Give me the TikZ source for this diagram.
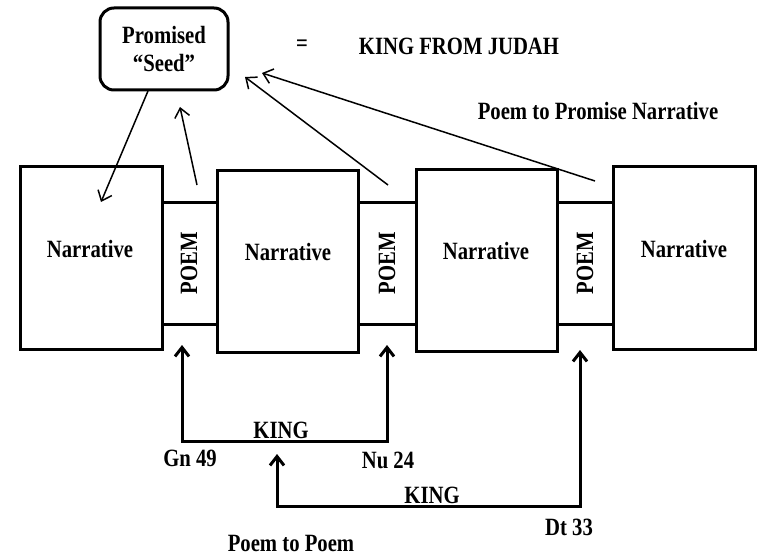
\documentclass[tikz,border=0pt]{standalone}
\usepackage{fontspec}
\setmainfont{Liberation Serif}
\usetikzlibrary{arrows.meta}
\newcommand{\tallt}[1]{\scalebox{1}[1.2]{#1}}
\begin{document}
\begin{tikzpicture}[x=1pt,y=-1pt,
  every node/.style={font=\fontsize{20.7}{28}\selectfont\bfseries,inner sep=0pt,outer sep=0pt},
  nbox/.style={draw,line width=3pt},
  pbox/.style={draw,line width=3pt},
  thin arrow/.style={line width=1.5pt,-{Straight Barb[length=9pt,width=15pt,line width=1.5pt]}},
  thick arrow/.style={line width=3pt,line join=miter,{Straight Barb[length=9pt,width=14pt,line width=3pt]}-{Straight Barb[length=9pt,width=14pt,line width=3pt]}}]
\useasboundingbox (0,0) rectangle (760,556);
% poem boxes
\node[pbox,minimum width=55pt,minimum height=121pt] (p1) at (189.5,263.5) {};
\node[pbox,minimum width=58pt,minimum height=121pt] (p2) at (387,263.5) {};
\node[pbox,minimum width=56pt,minimum height=121pt] (p3) at (585,263.5) {};
% narrative boxes
\node[nbox,minimum width=142pt,minimum height=182pt] (n1) at (91,258) {};
\node[nbox,minimum width=141pt,minimum height=181pt] (n2) at (287.5,261.5) {};
\node[nbox,minimum width=141pt,minimum height=181pt] (n3) at (486.5,260.5) {};
\node[nbox,minimum width=142pt,minimum height=182pt] (n4) at (684,258) {};
% texts in boxes
\node (t1) at (90,249) {\tallt{Narrative}};
\node (t2) at (288,252) {\tallt{Narrative}};
\node (t3) at (486,251) {\tallt{Narrative}};
\node (t4) at (684,249) {\tallt{Narrative}};
\node[rotate=90] (q1) at (189,263.5) {\tallt{POEM}};
\node[rotate=90] (q2) at (387,263.5) {\tallt{POEM}};
\node[rotate=90] (q3) at (585,263.5) {\tallt{POEM}};
% seed
\node[draw,line width=3pt,rounded corners=14pt,minimum width=128pt,minimum height=82pt,align=center] (seed) at (164,49) {\tallt{Promised}\\\tallt{“Seed”}};
\node (eq) at (302,46) {\tallt{=}};
\node (kfj) at (459,46) {\tallt{KING FROM JUDAH}};
\node (ppn) at (598,111) {\tallt{Poem to Promise Narrative}};
% top arrows
\coordinate (s1) at (148,91);
\coordinate (e1) at (101,202);
\coordinate (s2) at (197,185);
\coordinate (e2) at (180,107);
\coordinate (s3) at (388,185);
\coordinate (e3) at (245,77);
\coordinate (s4) at (595,181);
\coordinate (e4) at (262,73);
\draw[thin arrow] (s1) -- (e1);
\draw[thin arrow] (s2) -- (e2);
\draw[thin arrow] (s3) -- (e3);
\draw[thin arrow] (s4) -- (e4);
% bottom loops
\coordinate (g1) at (182,345);
\coordinate (g2) at (182,441);
\coordinate (g3) at (387,441);
\coordinate (g4) at (387,345);
\draw[thick arrow] (g1) -- (g2) -- (g3) -- (g4);
\coordinate (h1) at (277,454);
\coordinate (h2) at (277,506);
\coordinate (h3) at (580,506);
\coordinate (h4) at (580,350);
\draw[thick arrow] (h1) -- (h2) -- (h3) -- (h4);
% labels
\node (k1) at (281,430) {\tallt{KING}};
\node (gn) at (190,458) {\tallt{Gn 49}};
\node (nu) at (388,460) {\tallt{Nu 24}};
\node (k2) at (432,495) {\tallt{KING}};
\node (dt) at (569,527) {\tallt{Dt 33}};
\node (ptp) at (291,543) {\tallt{Poem to Poem}};
\end{tikzpicture}
\end{document}
